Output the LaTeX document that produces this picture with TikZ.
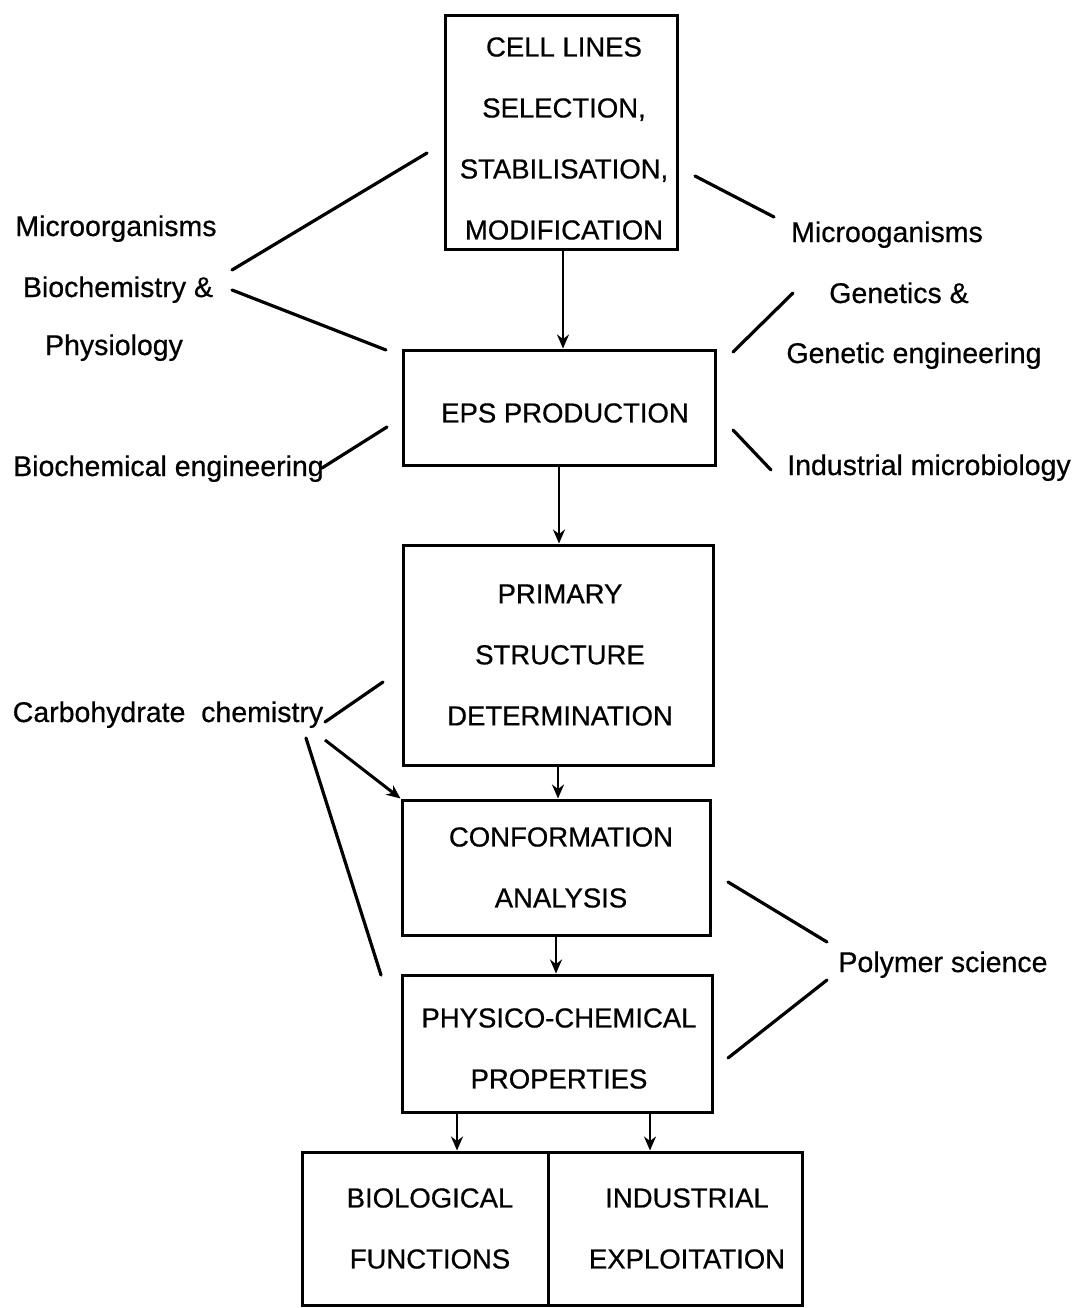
\documentclass[tikz,border=0pt]{standalone}
\usepackage{fontspec}
\setmainfont{Liberation Sans}
\newfontfamily\scanfont{Liberation Sans}[FakeBold=0.6]
\usetikzlibrary{arrows.meta,calc}
\begin{document}
\begin{tikzpicture}[x=1pt,y=-1pt,
  box/.style={draw, line width=3pt, inner sep=0pt, anchor=center},
  boxtxt/.style={align=center, inner sep=0pt, font=\scanfont\fontsize{27.5}{61}\selectfont},
  lbl/.style={anchor=base, inner sep=0pt, font=\scanfont\fontsize{28.5}{34}\selectfont},
  conn/.style={line width=3.2pt, line cap=round},
  arr/.style={line width=2.4pt, -{Stealth[length=14pt,width=12pt]}},
]
\fill[white] (0,0) rectangle (1077,1308);
\useasboundingbox (0,0) rectangle (1077,1308);

% boxes
\node[box, minimum width=232pt, minimum height=233pt] (b1) at (561,132.5) {};
\node[boxtxt] (b1t) at ([xshift=3pt,yshift=-6pt]b1.center) {CELL LINES\\SELECTION,\\STABILISATION,\\MODIFICATION};

\node[box, minimum width=312pt, minimum height=115pt] (b2) at (559,407.5) {};
\node[boxtxt] (b2t) at ([xshift=6pt,yshift=-5.5pt]b2.center) {EPS PRODUCTION};

\node[box, minimum width=310pt, minimum height=220pt] (b3) at (558,655) {};
\node[boxtxt] (b3t) at ([xshift=2pt]b3.center) {PRIMARY\\STRUCTURE\\DETERMINATION};

\node[box, minimum width=308pt, minimum height=135pt] (b4) at (556,867.5) {};
\node[boxtxt] (b4t) at ([xshift=5pt]b4.center) {CONFORMATION\\ANALYSIS};

\node[box, minimum width=310pt, minimum height=137pt] (b5) at (557,1043.5) {};
\node[boxtxt] (b5t) at ([xshift=2pt,yshift=-5pt]b5.center) {PHYSICO-CHEMICAL\\PROPERTIES};

\node[box, minimum width=246pt, minimum height=153pt] (bl) at (425,1228.5) {};
\node[boxtxt] (blt) at ([xshift=5pt]bl.center) {BIOLOGICAL\\FUNCTIONS};

\node[box, minimum width=254pt, minimum height=153pt] (br) at (675,1228.5) {};
\node[boxtxt] (brt) at ([xshift=12pt]br.center) {INDUSTRIAL\\EXPLOITATION};

% vertical arrows
\draw[arr] ([xshift=2pt]b1.south) -- ([xshift=2pt]b1.south |- b2.north);
\draw[arr] (b2.south) -- (b2.south |- b3.north);
\draw[arr] (b3.south) -- (b3.south |- b4.north);
\draw[arr] (b4.south) -- (b4.south |- b5.north);
\draw[arr] ([xshift=-100pt]b5.south) -- ([xshift=-100pt]b5.south |- bl.north);
\draw[arr] ([xshift=93pt]b5.south) -- ([xshift=93pt]b5.south |- br.north);

% labels
\node[lbl] (mo1) at (116,236) {Microorganisms};
\node[lbl] (mo2) at (118,297) {Biochemistry \&};
\node[lbl] (mo3) at (114,355) {Physiology};
\node[lbl] (bce) at (168.5,476) {Biochemical engineering};
\node[lbl] (cc) at (168,722) {Carbohydrate\ \ chemistry};

\node[lbl] (r1) at (887,242) {Microoganisms};
\node[lbl] (r2) at (899,303) {Genetics \&};
\node[lbl] (r3) at (914,363) {Genetic engineering};
\node[lbl] (im) at (929,475) {Industrial microbiology};
\node[lbl] (ps) at (943,972) {Polymer science};

% connector end points
\coordinate (l1a) at (427,153);  \coordinate (l1b) at (232,270);
\coordinate (l2a) at (232,290);  \coordinate (l2b) at (386,350);
\coordinate (l3a) at (322,468);  \coordinate (l3b) at (387,427);
\coordinate (r1a) at (695,176);  \coordinate (r1b) at (774,217);
\coordinate (r2a) at (733,352);  \coordinate (r2b) at (793,293);
\coordinate (r3a) at (733,430);  \coordinate (r3b) at (771,470);
\coordinate (c1a) at (325,722);  \coordinate (c1b) at (383,682);
\coordinate (c2a) at (325,740);
\coordinate (c3a) at (306,738);  \coordinate (c3b) at (381,975);
\coordinate (p1a) at (728,882);  \coordinate (p1b) at (827,942);
\coordinate (p2a) at (827,980);  \coordinate (p2b) at (728,1058);

\draw[conn] (l1a) -- (l1b);
\draw[conn] (l2a) -- (l2b);
\draw[conn] (l3a) -- (l3b);
\draw[conn] (r1a) -- (r1b);
\draw[conn] (r2a) -- (r2b);
\draw[conn] (r3a) -- (r3b);
\draw[conn] (c1a) -- (c1b);
\draw[arr, line width=3pt] (c2a) -- (b4.north west);
\draw[conn] (c3a) -- (c3b);
\draw[conn] (p1a) -- (p1b);
\draw[conn] (p2a) -- (p2b);
\end{tikzpicture}
\end{document}
